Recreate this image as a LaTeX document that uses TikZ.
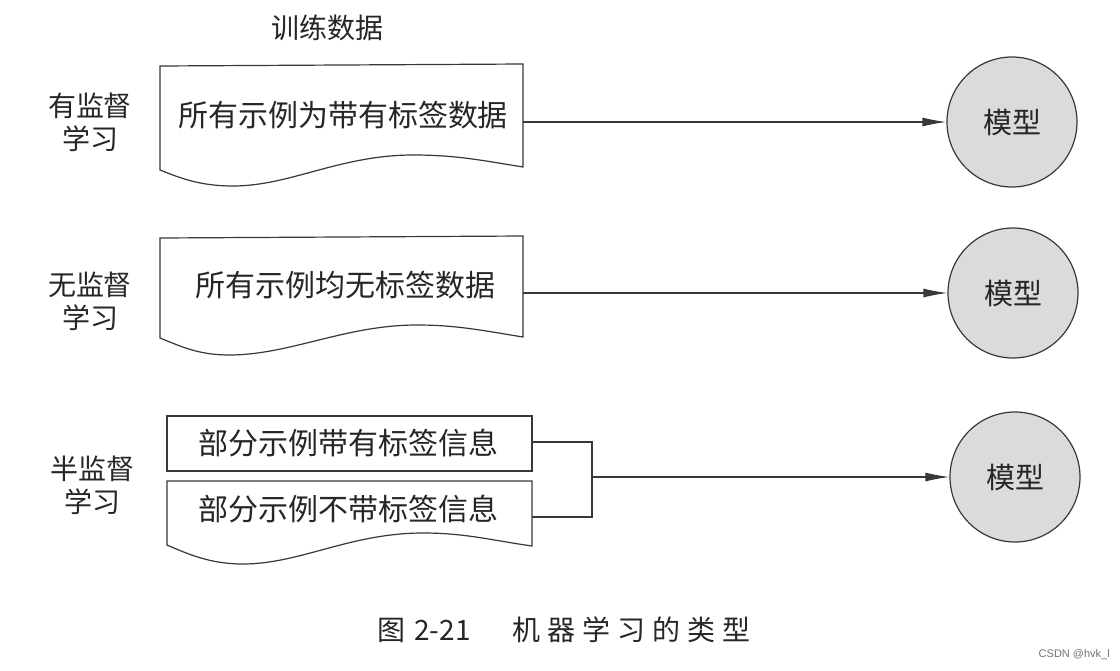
\documentclass[tikz,border=0pt]{standalone}
\usepackage{fontspec}
\newfontfamily\cjk{Noto Sans CJK SC}
\newfontfamily\wmfont{Liberation Sans}
\usetikzlibrary{arrows.meta}
\tikzset{
  ln/.style={draw=black!78, line width=1.2pt},
  doctext/.style={font=\cjk\fontsize{30}{32}\selectfont, text=black!85, inner sep=0pt},
  lbl/.style={font=\cjk\fontsize{28}{33}\selectfont, align=center, text=black!85, inner sep=0pt},
  model/.style={circle, draw=black!78, line width=1.2pt, fill=black!14, minimum size=130pt, inner sep=0pt, font=\cjk\fontsize{29}{32}\selectfont, text=black!85},
  arr/.style={ln, -{Latex[length=24pt,width=9pt]}},
}
\begin{document}
\begin{tikzpicture}[x=1pt,y=-1pt]
\useasboundingbox (0,0) rectangle (1120,670);
\fill[white] (0,0) rectangle (1120,670);

% header
\node[lbl] (hdr) at (327,28) {训练数据};

% left labels
\node[lbl] (l1) at (90,122) {有监督\\学习};
\node[lbl] (l2) at (90,301) {无监督\\学习};
\node[lbl] (l3) at (92,485) {半监督\\学习};

% models
\node[model] (c1) at (1012,122) {模型};
\node[model] (c2) at (1013,293) {模型};
\node[model] (c3) at (1015,477) {模型};

% document 1
\draw[ln] (160,66) -- (523,64) -- (523,167)
  .. controls (480,160) and (455,155) .. (413,155)
  .. controls (340,155) and (290,186) .. (233,186)
  .. controls (200,186) and (180,178) .. (160,170) -- cycle;
\node[doctext] (t1) at (343,115) {所有示例为带有标签数据};
\coordinate (d1) at (523,122);
\draw[arr] (d1) -- (c1.west);

% document 2
\draw[ln] (160,238) -- (523,236) -- (523,337)
  .. controls (480,330) and (455,325) .. (417,325)
  .. controls (345,325) and (290,355) .. (229,355)
  .. controls (198,355) and (180,346) .. (160,338) -- cycle;
\node[doctext] (t2) at (345,285) {所有示例均无标签数据};
\coordinate (d2) at (523,293);
\draw[arr] (d2) -- (c2.west);

% semi-supervised
\draw[ln] (167,416) rectangle (532,471);
\node[doctext] (t3) at (348,443) {部分示例带有标签信息};
\draw[ln] (167,481) -- (532,481) -- (532,546)
  .. controls (490,540) and (465,533) .. (423,533)
  .. controls (350,533) and (300,564) .. (243,564)
  .. controls (210,564) and (188,554) .. (167,545) -- cycle;
\node[doctext] (t4) at (348,509) {部分示例不带标签信息};
\coordinate (r1) at (532,442);
\coordinate (r2) at (532,517);
\coordinate (j) at (592,477);
\draw[ln] (r1) -- (592,442) -- (592,517) -- (r2);
\draw[arr] (j) -- (c3.west);

% caption
\node[font=\cjk\fontsize{28}{30}\selectfont, text=black!85, inner sep=0pt] (cap) at (564,630)
  {图\hspace{9pt}2-21\hspace{42pt}机\hspace{7pt}器\hspace{7pt}学\hspace{7pt}习\hspace{7pt}的\hspace{7pt}类\hspace{7pt}型};

% watermark
\node[font=\wmfont\fontsize{11}{13}\selectfont, text=black!55, anchor=east, inner sep=0pt] (wm) at (1110,655) {CSDN @hvk\_l};
\end{tikzpicture}
\end{document}
